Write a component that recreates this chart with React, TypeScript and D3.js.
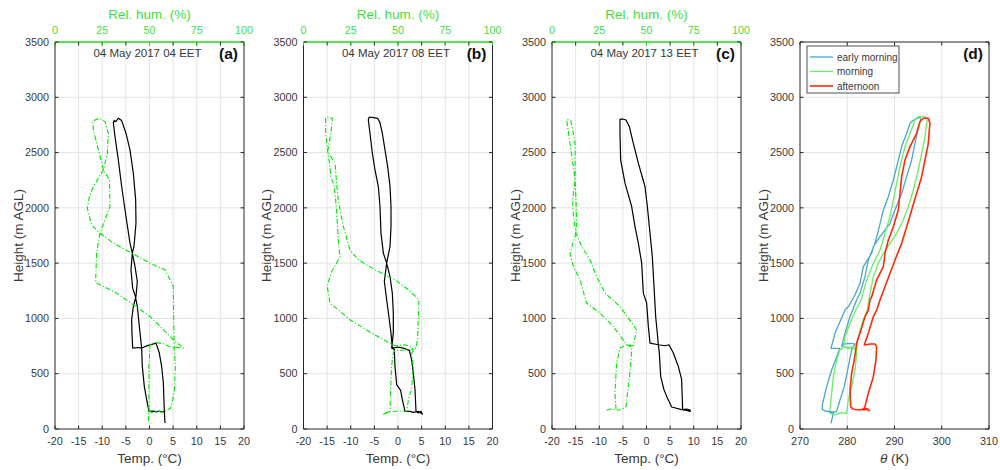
import React from 'react';
import * as d3 from 'd3';

type P = [number, number]; // [height (m AGL), value]

// ---------- axis ticks & labels ----------
const heightTicks = [0, 500, 1000, 1500, 2000, 2500, 3000, 3500];
const tempTicks = [-20, -15, -10, -5, 0, 5, 10, 15, 20];
const rhTicks = [0, 25, 50, 75, 100];
const thetaTicks = [270, 280, 290, 300, 310];
const soundingTitles = ['04 May 2017 04 EET', '04 May 2017 08 EET', '04 May 2017 13 EET'];
const panelLabels = ['(a)', '(b)', '(c)', '(d)'];
const legendLabels = ['early morning', 'morning', 'afternoon'];

// ---------- (a) 04 EET ----------
const tempA: P[] = [[54,3.28],[160,3.14],[156,2.6],[163,2.0],[154,1.52],[162,0.9],[160,-0.11],[265,-0.6],[386,-1.1],[566,-1.52],[732,-1.66],[928,-2.15],[1108,-2.58],[1199,-3.0],[1274,-3.56],[1440,-3.92],[1590,-3.63],[1651,-3.28],[1861,-2.86],[2072,-2.93],[2313,-3.42],[2524,-4.13],[2675,-4.98],[2789,-5.89],[2810,-6.6],[2780,-7.16],[2789,-7.51],[2765,-7.65],[2645,-7.3],[2434,-6.6],[2193,-5.89],[1922,-4.98],[1681,-4.13],[1590,-3.63],[1470,-3.07],[1334,-2.58],[1199,-2.86],[1108,-3.42],[988,-3.78],[867,-3.71],[732,-3.56],[737,-2.5],[732,-1.66],[756,-0.25],[777,1.38],[687,2.08],[566,2.57],[416,2.93],[160,3.14]];
const rhA: P[] = [[69,49.4],[160,49.4],[150,51.5],[165,53.8],[152,56],[160,58.2],[190,61.2],[325,63.1],[566,63.7],[732,63.1],[1018,62.8],[1289,62.6],[1440,58.2],[1500,50.3],[1590,40.6],[1681,30.9],[1771,23.8],[1846,19.4],[1997,17.1],[2102,18.2],[2193,20.3],[2343,25.6],[2494,27.7],[2675,28.2],[2780,26.5],[2810,23.5],[2795,21.2],[2780,20.0],[2705,20.3],[2524,23.0],[2343,25.6],[2253,28.8],[2012,29.1],[1892,26.5],[1771,23.8],[1590,22.0],[1325,21.5],[1229,32.6],[1018,50.3],[807,62.6],[732,67.9],[741,63.5],[735,62],[771,57.3],[783,52.9],[762,50.3],[566,49.7],[160,49.7],[150,48.5],[165,50.5]];

// ---------- (b) 08 EET ----------
const tempB: P[] = [[139,5.01],[160,4.3],[151,3.24],[160,2.54],[160,1.48],[265,0.92],[349,0.56],[401,-0.28],[566,-0.64],[717,-0.78],[732,-1.2],[867,-1.48],[988,-1.84],[1169,-2.4],[1334,-2.89],[1500,-2.4],[1651,-1.69],[1831,-1.48],[2012,-1.48],[2193,-1.69],[2373,-2.19],[2524,-2.75],[2675,-3.32],[2771,-3.81],[2810,-4.3],[2819,-5.43],[2819,-6.14],[2795,-6.28],[2675,-5.93],[2494,-5.43],[2343,-4.87],[2193,-4.16],[2012,-3.81],[1771,-3.6],[1590,-3.1],[1500,-2.4],[1379,-1.69],[1229,-1.2],[1048,-0.99],[867,-0.99],[732,-1.34],[741,0.07],[732,1.13],[711,2.4],[626,2.89],[506,3.24],[355,3.6],[160,3.81],[145,4.3],[160,4.87],[130,5.2]];
const rhB: P[] = [[130,42.2],[151,44.0],[160,46.6],[160,54.6],[295,55.8],[355,57.2],[566,58.1],[687,57.2],[732,59.3],[807,60.4],[1018,60.8],[1169,61.1],[1259,55.5],[1349,48.4],[1440,37.8],[1530,29.0],[1620,24.6],[1831,21.1],[2072,18.4],[2223,17.5],[2404,16.7],[2509,12.8],[2675,14.5],[2810,15.3],[2819,13.1],[2816,11.7],[2675,11.7],[2509,12.8],[2434,13.5],[2283,14.5],[2193,16.3],[1982,17.5],[1711,18.4],[1560,19.3],[1500,17.5],[1410,14.5],[1289,12.6],[1139,14.0],[1078,18.4],[988,24.6],[867,36.1],[792,44.0],[753,48.4],[762,53.7],[741,57.2],[717,58.1],[711,48.4],[687,47.5],[566,46.6],[355,46.1],[160,45.8],[145,44.0],[130,42.8]];

// ---------- (c) 13 EET ----------
const tempC: P[] = [[169,9.35],[160,9.21],[169,8.5],[175,7.44],[199,5.33],[295,4.27],[355,3.7],[476,3.0],[687,2.72],[762,2.5],[867,2.29],[1018,1.94],[1289,1.59],[1560,1.23],[1771,0.74],[2012,0.18],[2193,-0.32],[2404,-1.73],[2584,-2.79],[2735,-3.63],[2795,-4.34],[2804,-5.04],[2801,-5.61],[2675,-5.61],[2434,-5.47],[2223,-4.55],[2012,-3.14],[1831,-2.43],[1681,-1.73],[1500,-1.02],[1229,-0.67],[1139,0.03],[928,0.39],[777,0.74],[762,2.5],[753,3.92],[762,4.76],[687,5.68],[566,6.74],[446,7.44],[175,7.65],[181,8.5],[169,9.35]];
const rhC: P[] = [[169,28.9],[181,30.7],[175,33.9],[325,33.3],[596,34.2],[732,36.0],[762,39.5],[753,43.0],[898,44.8],[1108,36.0],[1229,28.0],[1379,23.6],[1530,20.1],[1651,15.7],[1771,12.7],[1922,11.3],[2072,10.9],[2253,12.2],[2584,12.2],[2675,11.3],[2789,9.9],[2801,8.1],[2789,7.8],[2584,9.5],[2373,11.3],[2253,12.2],[2072,12.7],[1831,13.1],[1741,12.2],[1590,9.5],[1470,11.3],[1349,14.8],[1139,18.3],[1048,25.4],[928,32.4],[762,39.5],[741,42.2],[566,41.6],[386,40.4],[205,39.2],[175,36.9],[169,34.2]];

// ---------- (d) potential temperature ----------
const thetaEarly: P[] = [[51,276.56],[142,277.05],[157,276.0],[150,277.0],[157,277.76],[262,278.46],[383,279.38],[564,280.22],[715,280.93],[769,281.64],[775,280.22],[766,279.17],[745,278.81],[865,279.52],[1016,280.58],[1167,281.99],[1227,282.7],[1378,283.76],[1529,284.46],[1679,285.87],[1830,286.79],[1981,287.64],[2101,288.7],[2252,289.75],[2433,290.81],[2554,291.52],[2674,292.58],[2765,293.28],[2780,293.63],[2810,294.69],[2819,295.4],[2795,295.54],[2735,295.05],[2584,294.34],[2433,293.63],[2282,292.58],[2132,291.52],[1981,290.11],[1860,289.05],[1740,286.93],[1649,285.52],[1589,285.17],[1468,283.4],[1318,282.7],[1212,281.64],[1106,280.23],[1076,279.52],[971,278.46],[865,277.4],[730,276.56],[730,278.46],[654,277.76],[534,276.7],[383,275.64],[217,274.72],[178,274.72],[157,275.64],[162,276.2],[152,276.7],[158,277.2]];
const thetaMorning: P[] = [[172,276.34],[323,276.7],[473,277.05],[624,277.76],[715,278.46],[745,279.52],[724,280.22],[745,280.93],[720,281.8],[735,280.6],[745,279.2],[835,279.52],[956,280.58],[1061,281.64],[1167,282.9],[1348,284.11],[1498,285.52],[1619,286.93],[1770,287.99],[1921,289.05],[2071,289.75],[2222,290.46],[2373,291.16],[2554,292.22],[2674,293.28],[2750,293.99],[2795,294.34],[2825,295.05],[2825,296.46],[2795,296.95],[2765,296.81],[2644,296.46],[2493,295.75],[2343,295.05],[2162,293.99],[2011,292.93],[1890,291.87],[1770,290.46],[1679,289.05],[1589,287.64],[1498,286.58],[1378,285.52],[1227,284.82],[1076,284.25],[986,283.4],[835,282.34],[760,281.99],[684,281.99],[534,281.64],[383,280.93],[262,280.22],[142,279.87],[148,278.81],[127,277.4],[142,276.34]];
const thetaAfternoon: P[] = [[178,284.46],[187,283.75],[172,282.69],[178,281.28],[202,280.72],[353,280.58],[504,280.93],[624,281.49],[775,281.99],[865,282.69],[1016,283.75],[1076,284.46],[1167,284.81],[1197,285.17],[1348,286.23],[1468,287.64],[1589,287.99],[1709,288.7],[1830,289.75],[1981,290.81],[2132,291.16],[2282,291.52],[2433,292.22],[2554,293.28],[2674,294.69],[2780,295.4],[2810,296.1],[2810,297.16],[2765,297.51],[2704,297.37],[2584,297.16],[2433,296.46],[2282,295.75],[2132,294.69],[1981,293.63],[1830,292.58],[1679,291.52],[1529,290.11],[1408,289.05],[1287,287.99],[1167,286.93],[1076,286.23],[1016,285.52],[865,284.46],[760,283.61],[769,284.81],[769,285.87],[745,286.22],[624,286.08],[473,285.52],[323,284.46],[202,283.75],[172,283.4],[178,284.1],[163,284.81]];

// ---------- layout / style ----------
const W = 1000, H = 470;
const TOP = 42, BOTTOM = 429, PW = 189;
const LEFTS = [55, 303.5, 552, 800];
const FONT = '"Liberation Sans", Arial, Helvetica, sans-serif';
const AX = '#262626';
const TXT = '#383838';
const GRID = '#e4e4e4';
const GREEN_LINE = '#00e600';
const GREEN_AX = '#22d822';
const GREEN_TXT = '#3fe03f';
const THETA_COLORS = ['#4aa8c6', '#66ee66', '#ff2a0a'];
const TICK = 3.5;
const TICK_FS = 10.8;
const LABEL_FS = 13.5;

const yScale = d3.scaleLinear().domain([0, 3500]).range([BOTTOM, TOP]);

function Frame({ idx, x, xTickVals, xLabel, children, title, greenTop }: any) {
  const x0 = LEFTS[idx];
  const x1 = x0 + PW;
  const cx = x0 + PW / 2;
  return (
    <g>
      {xTickVals.slice(1, -1).map((t: number) => (
        <line key={'gx' + t} x1={x(t)} x2={x(t)} y1={TOP} y2={BOTTOM} stroke={GRID} strokeWidth={1} />
      ))}
      {heightTicks.slice(1, -1).map((t) => (
        <line key={'gy' + t} x1={x0} x2={x1} y1={yScale(t)} y2={yScale(t)} stroke={GRID} strokeWidth={1} />
      ))}
      {children}
      <line x1={x0} x2={x1} y1={BOTTOM} y2={BOTTOM} stroke={AX} strokeWidth={1} />
      <line x1={x0} x2={x0} y1={TOP} y2={BOTTOM} stroke={AX} strokeWidth={1} />
      <line x1={x1} x2={x1} y1={TOP} y2={BOTTOM} stroke={AX} strokeWidth={1} />
      <line x1={x0} x2={x1} y1={TOP} y2={TOP} stroke={greenTop ? GREEN_AX : AX} strokeWidth={greenTop ? 1.6 : 1} />
      {heightTicks.map((t) => (
        <g key={'yt' + t}>
          <line x1={x0} x2={x0 + TICK} y1={yScale(t)} y2={yScale(t)} stroke={AX} />
          <line x1={x1} x2={x1 - TICK} y1={yScale(t)} y2={yScale(t)} stroke={AX} />
          <text x={x0 - 6} y={yScale(t)} dy="0.35em" textAnchor="end" fontSize={TICK_FS} fill={TXT}>{t}</text>
        </g>
      ))}
      {xTickVals.map((t: number) => (
        <g key={'xt' + t}>
          <line x1={x(t)} x2={x(t)} y1={BOTTOM} y2={BOTTOM - TICK} stroke={AX} />
          <line x1={x(t)} x2={x(t)} y1={TOP} y2={TOP + TICK} stroke={AX} />
          <text x={x(t)} y={441} dy="0.35em" textAnchor="middle" fontSize={TICK_FS} fill={TXT}>{t}</text>
        </g>
      ))}
      <text x={cx} y={458} dy="0.35em" textAnchor="middle" fontSize={LABEL_FS} fill={TXT}>{xLabel}</text>
      <text transform={`translate(${x0 - 37},${(TOP + BOTTOM) / 2}) rotate(-90)`} dy="0.35em" textAnchor="middle" fontSize={LABEL_FS} fill={TXT}>Height (m AGL)</text>
      {title && (
        <text x={cx - 2} y={53} dy="0.35em" textAnchor="middle" fontSize={11.5} fill={TXT}>{title}</text>
      )}
      <text x={x1 - 6} y={54} dy="0.35em" textAnchor="end" fontSize={15.5} fontWeight="bold" fill="#111">{panelLabels[idx]}</text>
    </g>
  );
}

function SoundingPanel({ idx, temp, rh }: { idx: number; temp: P[]; rh: P[] }) {
  const x0 = LEFTS[idx];
  const x = d3.scaleLinear().domain([-20, 20]).range([x0, x0 + PW]);
  const xr = d3.scaleLinear().domain([0, 100]).range([x0, x0 + PW]);
  const tLine = d3.line<P>().x((d) => x(d[1])).y((d) => yScale(d[0]));
  const rLine = d3.line<P>().x((d) => xr(d[1])).y((d) => yScale(d[0]));
  return (
    <g>
      <Frame idx={idx} x={x} xTickVals={tempTicks} xLabel="Temp. (°C)" title={soundingTitles[idx]} greenTop>
        <path d={tLine(temp) || ''} fill="none" stroke="#000" strokeWidth={1.2} strokeLinejoin="round" />
        <path d={rLine(rh) || ''} fill="none" stroke={GREEN_LINE} strokeWidth={1.1} strokeDasharray="5,2,1.2,2" strokeLinejoin="round" />
      </Frame>
      {rhTicks.map((t) => (
        <g key={'rh' + t}>
          <line x1={xr(t)} x2={xr(t)} y1={TOP} y2={TOP + TICK} stroke={GREEN_AX} />
          <text x={xr(t)} y={30} dy="0.35em" textAnchor="middle" fontSize={TICK_FS} fill={GREEN_TXT}>{t}</text>
        </g>
      ))}
      <text x={x0 + PW / 2} y={14} dy="0.35em" textAnchor="middle" fontSize={LABEL_FS} fill={GREEN_TXT}>Rel. hum. (%)</text>
    </g>
  );
}

function ThetaPanel() {
  const idx = 3;
  const x0 = LEFTS[idx];
  const x = d3.scaleLinear().domain([270, 310]).range([x0, x0 + PW]);
  const line = d3.line<P>().x((d) => x(d[1])).y((d) => yScale(d[0]));
  const series = [thetaEarly, thetaMorning, thetaAfternoon];
  const widths = [1.3, 1.3, 1.6];
  const lx = 807, ly = 46;
  return (
    <Frame idx={idx} x={x} xTickVals={thetaTicks} xLabel={<><tspan fontStyle="italic">θ</tspan> (K)</>}>
      {series.map((s, i) => (
        <path key={i} d={line(s) || ''} fill="none" stroke={THETA_COLORS[i]} strokeWidth={widths[i]} strokeLinejoin="round" />
      ))}
      <rect x={lx} y={ly} width={92} height={47} fill="#fff" stroke={AX} strokeWidth={0.8} />
      {legendLabels.map((l, i) => (
        <g key={l}>
          <line x1={lx + 3} x2={lx + 26} y1={ly + 11 + i * 14.5} y2={ly + 11 + i * 14.5} stroke={THETA_COLORS[i]} strokeWidth={widths[i]} />
          <text x={lx + 30} y={ly + 11 + i * 14.5} dy="0.35em" fontSize={10} fill={TXT}>{l}</text>
        </g>
      ))}
    </Frame>
  );
}

export default function App() {
  return (
    <svg width={W} height={H} viewBox={`0 0 ${W} ${H}`} style={{ position: 'absolute', left: 0, top: 0, display: 'block', background: '#fff' }} fontFamily={FONT}>
      <rect x={0} y={0} width={W} height={H} fill="#fff" />
      <SoundingPanel idx={0} temp={tempA} rh={rhA} />
      <SoundingPanel idx={1} temp={tempB} rh={rhB} />
      <SoundingPanel idx={2} temp={tempC} rh={rhC} />
      <ThetaPanel />
    </svg>
  );
}
